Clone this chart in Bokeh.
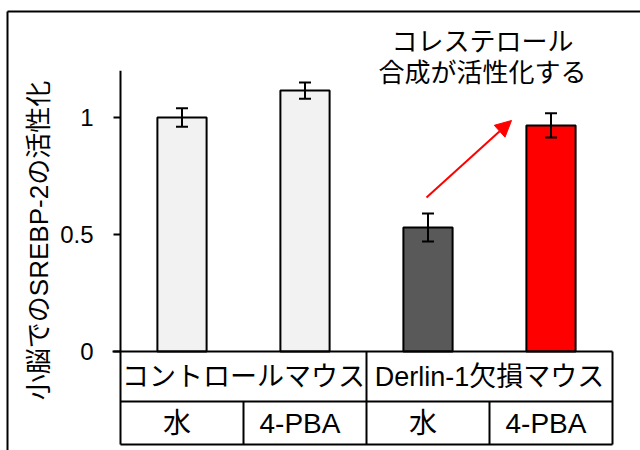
import math
from bokeh.plotting import figure
from bokeh.models import Range1d, ColumnDataSource, Whisker, TeeHead, Arrow, NormalHead
from bokeh.core.properties import value
from bokeh.embed import file_html
from bokeh.resources import INLINE

# ---------------- data ----------------
GROUPS = ["コントロールマウス", "Derlin-1欠損マウス"]
TREATMENTS = ["水", "4-PBA", "水", "4-PBA"]
VALUES = [1.00, 1.115, 0.53, 0.966]
ERRORS = [0.04, 0.035, 0.06, 0.052]
COLORS = ["#f2f2f2", "#f2f2f2", "#595959", "#ff0000"]
YTICKS = [0, 0.5, 1]
YTICK_LABELS = ["0", "0.5", "1"]
Y_MAX = 1.2
Y_LABEL = "小脳でのSREBP-2の活性化"
NOTE_LINES = ["コレステロール", "合成が活性化する"]

# ---------------- layout (pixels) ----------------
W, H = 640, 450
X0_PX = 120      # pixel column of the y axis (x = 0)
CELL_PX = 123    # pixels per category cell
Y0_PX = 351      # pixel row of value 0
UNIT_PX = 234    # pixels per 1.0


def dx(px):
    return px / CELL_PX


def dy(px):
    return px / UNIT_PX


def xpx(px):
    return (px - X0_PX) / CELL_PX


def ypx(py):
    return (Y0_PX - py) / UNIT_PX


FONT = value("'Liberation Sans', 'Noto Sans CJK JP', sans-serif")

p = figure(width=W, height=H,
           x_range=Range1d(xpx(0), xpx(W)), y_range=Range1d(ypx(H), ypx(0)),
           x_axis_location=None, y_axis_location=None,
           output_backend="svg", toolbar_location=None, min_border=0)
p.grid.visible = False
p.outline_line_color = None
p.background_fill_color = "white"
p.border_fill_color = "white"

n = len(VALUES)
xs = [i + 0.5 for i in range(n)]

# outer frame (left and top edges of the original picture)
p.line(x=[xpx(7), xpx(7)], y=[ypx(11), ypx(H + 10)], line_color="black", line_width=2)
p.line(x=[xpx(7), xpx(W + 10)], y=[ypx(11), ypx(11)], line_color="black", line_width=2)

# bars
src = ColumnDataSource(dict(x=xs, top=VALUES, color=COLORS,
                            upper=[v + e for v, e in zip(VALUES, ERRORS)],
                            lower=[v - e for v, e in zip(VALUES, ERRORS)]))
p.vbar(x="x", top="top", width=0.4, fill_color="color", line_color="black",
       line_width=2, source=src)

w = Whisker(base="x", upper="upper", lower="lower", source=src,
            line_color="black", line_width=2, level="overlay",
            upper_head=TeeHead(size=12, line_width=2, line_color="black"),
            lower_head=TeeHead(size=12, line_width=2, line_color="black"))
p.add_layout(w)

# y axis
p.segment(x0=[0], y0=[0], x1=[0], y1=[Y_MAX], line_color="black", line_width=2)
p.segment(x0=[-dx(7)] * len(YTICKS), y0=YTICKS, x1=[0] * len(YTICKS), y1=YTICKS,
          line_color="black", line_width=2)
p.text(x=[-dx(27)] * len(YTICKS), y=YTICKS, text=YTICK_LABELS, text_font=FONT,
       text_font_size="24px", text_align="right", text_baseline="middle",
       text_color="black")

# y label
p.text(x=[xpx(38)], y=[ypx(240)], text=[Y_LABEL], angle=math.pi / 2,
       text_font=FONT, text_font_size="26px", text_align="center",
       text_baseline="middle", text_color="black")

# category table below the bars
row1_bottom = ypx(401)
row2_bottom = ypx(444)
p.segment(x0=[-dx(8), 0, 0], y0=[0, row1_bottom, row2_bottom],
          x1=[n, n, n], y1=[0, row1_bottom, row2_bottom],
          line_color="black", line_width=2)
full = [0, n // 2, n]
p.segment(x0=full, y0=[0] * 3, x1=full, y1=[row2_bottom] * 3,
          line_color="black", line_width=2)
half = [1, 3]
p.segment(x0=half, y0=[row1_bottom] * 2, x1=half, y1=[row2_bottom] * 2,
          line_color="black", line_width=2)

p.text(x=[1, 3], y=[(0 + row1_bottom) / 2] * 2, text=GROUPS, text_font=FONT,
       text_font_size="27px", text_align="center", text_baseline="middle",
       text_color="black")
p.text(x=[x - dx(5) for x in xs], y=[(row1_bottom + row2_bottom) / 2] * n,
       text=TREATMENTS, text_font=FONT,
       text_font_size="28px", text_align="center", text_baseline="middle",
       text_color="black")

# annotation
p.text(x=[xpx(482)], y=[ypx(41)], text=[NOTE_LINES[0]], text_font=FONT,
       text_font_size="26px", text_align="center", text_baseline="middle",
       text_color="black")
p.text(x=[xpx(482)], y=[ypx(72)], text=[NOTE_LINES[1]], text_font=FONT,
       text_font_size="26px", text_align="center", text_baseline="middle",
       text_color="black")

arrow = Arrow(x_start=xpx(426), y_start=ypx(197), x_end=xpx(511), y_end=ypx(120),
              line_color="#ff0000", line_width=2,
              end=NormalHead(size=16, fill_color="#ff0000", line_color="#ff0000"))
p.add_layout(arrow)

open("out.html", "w").write(file_html(p, INLINE))
